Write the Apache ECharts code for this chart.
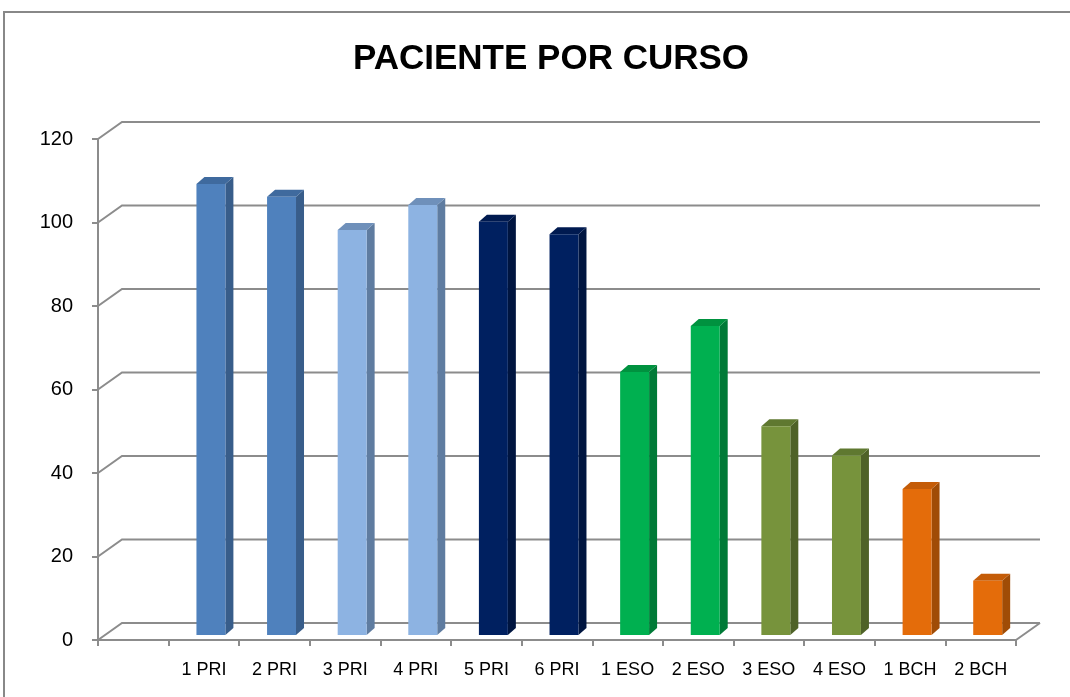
<!DOCTYPE html>
<html>
<head>
<meta charset="utf-8">
<script src="https://cdn.jsdelivr.net/npm/echarts@6/dist/echarts.min.js"></script>
<style>
  html, body { margin: 0; padding: 0; background: #fff; }
  #chart { width: 1070px; height: 697px; }
</style>
</head>
<body>
<div id="chart"></div>
<script>
// datos (el primer hueco va vacio)
const cursos = ['', '1 PRI', '2 PRI', '3 PRI', '4 PRI', '5 PRI', '6 PRI', '1 ESO', '2 ESO', '3 ESO', '4 ESO', '1 BCH', '2 BCH'];
const pacientes = [null, 108, 105, 97, 103, 99, 96, 63, 74, 50, 43, 35, 13];
const yTicks = [0, 20, 40, 60, 80, 100, 120];

// colores: [frente, lateral, arriba]
const azul = ['#4F81BD', '#385D8A', '#3F6A9E'];
const celeste = ['#8DB3E2', '#5F7CA0', '#6F90BA'];
const marino = ['#002060', '#001540', '#001A50'];
const verde = ['#00B050', '#007A37', '#00923F'];
const oliva = ['#77933C', '#4F6228', '#5F7830'];
const naranja = ['#E46C0A', '#A04C06', '#C45C08'];
const paleta = [null, azul, azul, celeste, celeste, marino, marino, verde, verde, oliva, oliva, naranja, naranja];

// profundidad del fondo 3D
const DX = 24, DY = -17;
const lineColor = '#8C8C8C';

const chart = echarts.init(document.getElementById('chart'));

function renderGrid(params, api) {
  const band = api.size([1, 0])[0];
  const x0 = api.coord([0, 0])[0] - band / 2;
  const x1 = api.coord([cursos.length - 1, 0])[0] + band / 2;
  const children = [];
  yTicks.forEach(function (v) {
    const y = api.coord([0, v])[1];
    children.push({
      type: 'polyline',
      shape: { points: [[x0, y], [x0 + DX, y + DY], [x1 + DX, y + DY]] },
      style: { stroke: lineColor, lineWidth: 2, fill: null }
    });
  });
  const y0 = api.coord([0, 0])[1];
  children.push({
    type: 'line',
    shape: { x1: x1 + DX, y1: y0 + DY, x2: x1, y2: y0 },
    style: { stroke: lineColor, lineWidth: 2 }
  });
  return { type: 'group', children: children };
}

function renderBar(params, api) {
  const i = api.value(0);
  const v = api.value(1);
  if (v == null || isNaN(v)) return null;
  const band = api.size([1, 0])[0];
  const w = band * 0.41;
  const top = api.coord([i, v]);
  const base = api.coord([i, 0]);
  // cara frontal desplazada hacia la mitad de la profundidad
  const fx = top[0] - w / 2 + 7;
  const ty = top[1] - 5;
  const by = base[1] - 5;
  const dx = 8, dy = -7;
  const c = paleta[i];
  return {
    type: 'group',
    children: [
      {
        type: 'polygon',
        shape: { points: [[fx + w, ty], [fx + w + dx, ty + dy], [fx + w + dx, by + dy], [fx + w, by]] },
        style: { fill: c[1] }
      },
      {
        type: 'polygon',
        shape: { points: [[fx, ty], [fx + dx, ty + dy], [fx + w + dx, ty + dy], [fx + w, ty]] },
        style: { fill: c[2] }
      },
      {
        type: 'rect',
        shape: { x: fx, y: ty, width: w, height: by - ty },
        style: { fill: c[0] }
      }
    ]
  };
}

const option = {
  backgroundColor: '#fff',
  animation: false,
  title: {
    text: 'PACIENTE POR CURSO',
    left: 546,
    textAlign: 'center',
    top: 37,
    textStyle: {
      fontFamily: '"Liberation Sans", Arial, sans-serif',
      fontWeight: 'bold',
      fontSize: 35,
      color: '#000'
    }
  },
  graphic: [{
    type: 'rect',
    shape: { x: 4, y: 12, width: 1200, height: 800 },
    style: { fill: null, stroke: '#888', lineWidth: 2 },
    silent: true
  }],
  grid: { left: 98, top: 139, width: 918, height: 501 },
  xAxis: {
    type: 'category',
    data: cursos,
    axisLine: { show: true, lineStyle: { color: lineColor, width: 2 } },
    axisTick: { show: true, length: 6, lineStyle: { color: lineColor, width: 2 } },
    axisLabel: {
      interval: 0,
      margin: 21,
      color: '#000',
      fontSize: 18,
      fontFamily: '"Liberation Sans", Arial, sans-serif'
    },
    splitLine: { show: false }
  },
  yAxis: {
    type: 'value',
    min: 0,
    max: 120,
    interval: 20,
    axisLine: { show: true, lineStyle: { color: lineColor, width: 2 } },
    axisTick: { show: true, length: 6, lineStyle: { color: lineColor, width: 2 } },
    axisLabel: {
      margin: 25,
      color: '#000',
      fontSize: 20,
      fontFamily: '"Liberation Sans", Arial, sans-serif'
    },
    splitLine: { show: false }
  },
  series: [
    {
      name: 'fondo',
      type: 'custom',
      renderItem: renderGrid,
      data: [[0, 0]],
      clip: false,
      silent: true,
      z: 1
    },
    {
      name: 'Pacientes',
      type: 'custom',
      renderItem: renderBar,
      data: pacientes.map(function (v, i) { return [i, v]; }),
      clip: false,
      z: 2
    }
  ]
};

chart.setOption(option);
</script>
</body>
</html>
